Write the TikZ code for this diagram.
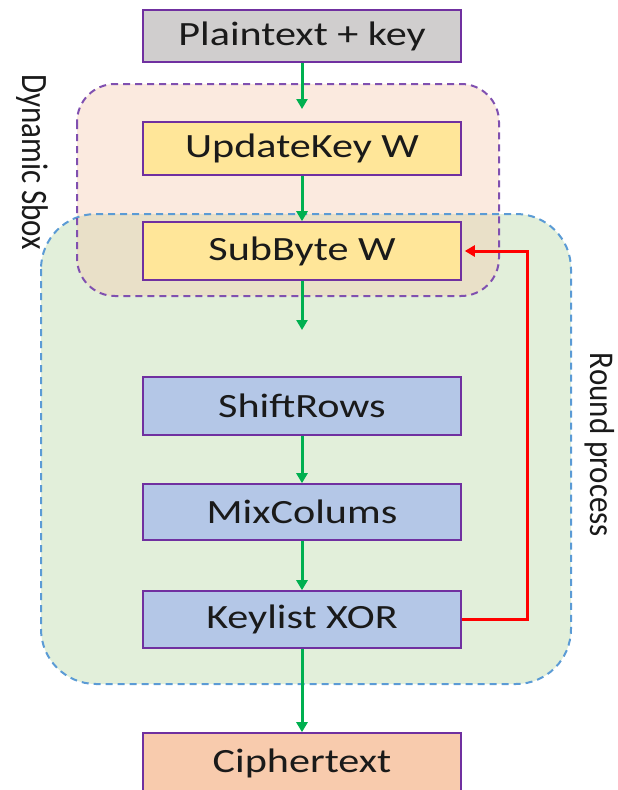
\documentclass[tikz,border=0pt]{standalone}
\usepackage{fontspec}
\setmainfont[FakeStretch=1.24]{Carlito}
\newfontfamily\labelfont{Carlito}
\usetikzlibrary{arrows.meta}
\definecolor{boxpurple}{HTML}{7030A0}
\definecolor{dashpurple}{HTML}{8050B0}
\definecolor{dashblue}{HTML}{5B9BD5}
\definecolor{greyfill}{HTML}{D0CECE}
\definecolor{yellowfill}{HTML}{FFE699}
\definecolor{bluefill}{HTML}{B4C7E7}
\definecolor{orangefill}{HTML}{F8CBAD}
\definecolor{regorange}{HTML}{FBEADF}
\definecolor{reggreen}{HTML}{E2EFDA}
\definecolor{regoverlap}{HTML}{E9E0C8}
\definecolor{arrowgreen}{HTML}{00B050}
\definecolor{textdark}{HTML}{1A1A1A}
\tikzset{
  stepbox/.style={draw=boxpurple, line width=1.6pt, minimum width=318pt, inner sep=0pt,
    font=\fontsize{34}{38}\selectfont, text=textdark},
  flow/.style={draw=arrowgreen, line width=3pt, -{Triangle[length=10pt,width=11pt]}},
  feedback/.style={draw=red, line width=3pt, -{Triangle[length=10pt,width=11pt]}, shorten >=3pt},
  sidelabel/.style={rotate=-90, font=\labelfont\fontsize{31}{35}\selectfont, text=textdark, inner sep=0pt}
}
\begin{document}
\begin{tikzpicture}[x=1pt,y=-1pt]
\useasboundingbox (0,0) rectangle (618,790);
% region fills
\fill[reggreen, rounded corners=55pt] (41,214) rectangle (571,684);
\fill[regorange, rounded corners=38pt] (77,84) rectangle (499,296);
\begin{scope}
  \clip[rounded corners=55pt] (41,214) rectangle (571,684);
  \fill[regoverlap, rounded corners=38pt] (77,84) rectangle (499,296);
\end{scope}
% region borders
\draw[dashblue, line width=2pt, dash pattern=on 7pt off 5pt, rounded corners=55pt] (41,214) rectangle (571,684);
\draw[dashpurple, line width=2pt, dash pattern=on 7pt off 5pt, rounded corners=38pt] (77,84) rectangle (499,296);
% boxes
\node[stepbox, fill=greyfill, minimum height=52pt] (pt) at (302,36) {Plaintext + key};
\node[stepbox, fill=yellowfill, minimum height=53pt] (uk) at (302,148.5) {UpdateKey W};
\node[stepbox, fill=yellowfill, minimum height=58pt] (sb) at (302,251) {SubByte W};
\node[stepbox, fill=bluefill, minimum height=58pt] (sr) at (302,406) {ShiftRows};
\node[stepbox, fill=bluefill, minimum height=56pt] (mc) at (302,512) {MixColums};
\node[stepbox, fill=bluefill, minimum height=57pt] (kx) at (302,619.5) {Keylist XOR};
\node[stepbox, fill=orangefill, minimum height=60pt] (ct) at (302,763) {Ciphertext};
% free arrow ends
\coordinate (e1) at (302,109);
\coordinate (e2) at (302,330);
% connectors
\draw[flow] (pt.south) -- (e1);
\draw[flow] (uk.south) -- (sb.north);
\draw[flow] (sb.south) -- (e2);
\draw[flow] (sr.south) -- (mc.north);
\draw[flow] (mc.south) -- (kx.north);
\draw[flow] (kx.south) -- (ct.north);
\draw[feedback] (kx.east) -- ++(66,0) |- (sb.east);
% side labels
\node[sidelabel] (ds) at (32,162) {\scalebox{1}[1.2]{Dynamic Sbox}};
\node[sidelabel] (rp) at (600,445) {\scalebox{1}[1.12]{Round process}};
\end{tikzpicture}
\end{document}
